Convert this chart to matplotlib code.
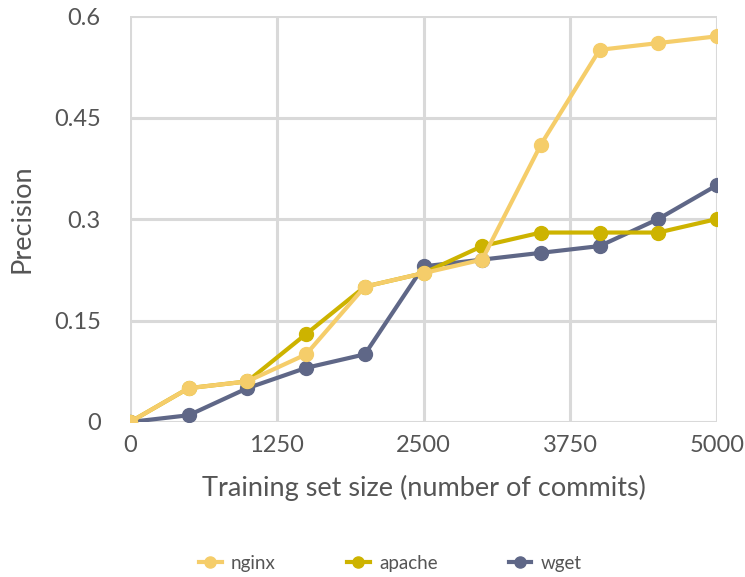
import matplotlib
matplotlib.use("Agg")
import matplotlib.pyplot as plt

plt.rcParams['font.family'] = ['Lato', 'DejaVu Sans']

sizes = [0, 500, 1000, 1500, 2000, 2500, 3000, 3500, 4000, 4500, 5000]
nginx = [0, 0.05, 0.06, 0.10, 0.20, 0.22, 0.24, 0.41, 0.55, 0.56, 0.57]
apache = [0, 0.05, 0.06, 0.13, 0.20, 0.22, 0.26, 0.28, 0.28, 0.28, 0.30]
wget = [0, 0.01, 0.05, 0.08, 0.10, 0.23, 0.24, 0.25, 0.26, 0.30, 0.35]

x_ticks = [0, 1250, 2500, 3750, 5000]
y_ticks = [0, 0.15, 0.3, 0.45, 0.6]
y_labels = ['0', '0.15', '0.3', '0.45', '0.6']

txt = '#555555'

fig = plt.figure(figsize=(7.45, 5.77), dpi=100)
ax = fig.add_axes([130 / 745, 1 - 422 / 577, 587 / 745, 406 / 577])

ax.plot(sizes, wget, color='#5f6787', lw=3, marker='o', ms=10, label='wget', zorder=3)
ax.plot(sizes, apache, color='#cdb300', lw=3, marker='o', ms=10, label='apache', zorder=4)
ax.plot(sizes, nginx, color='#f5cd6a', lw=3, marker='o', ms=10, label='nginx', zorder=5)

ax.set_xlim(0, 5000)
ax.set_ylim(0, 0.6)
ax.set_xticks(x_ticks)
ax.set_xticklabels([str(t) for t in x_ticks])
ax.set_yticks(y_ticks)
ax.set_yticklabels(y_labels)
ax.tick_params(length=0, labelsize=17, colors=txt)
ax.tick_params(axis='y', pad=21)
ax.tick_params(axis='x', pad=9)
ax.grid(color='#d9d9d9', lw=2.2)
ax.set_axisbelow(True)
for s in ax.spines.values():
    s.set_visible(False)

ax.set_xlabel('Training set size (number of commits)', fontsize=19.5, color=txt, labelpad=14)
ax.set_ylabel('Precision', fontsize=19.5, color=txt, labelpad=14)

h, l = ax.get_legend_handles_labels()
fig.legend(h[::-1], l[::-1], loc='center', bbox_to_anchor=(0.524, 1 - 563 / 577), ncol=3,
           frameon=False, fontsize=13.5, labelcolor=txt, columnspacing=3.8,
           handlelength=1.2, handletextpad=0.5, markerscale=0.8)

fig.savefig('out.png', dpi=100)
